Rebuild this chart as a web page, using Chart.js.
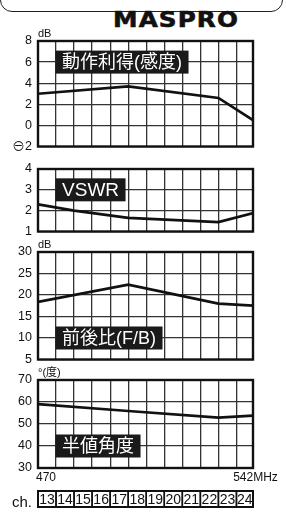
<!DOCTYPE html>
<html lang="ja">
  <head>
    <meta charset="UTF-8" />
    <meta name="viewport" content="width=device-width, initial-scale=1.0" />
    <title>MASPRO UHF characteristics</title>
    <script src="https://cdn.jsdelivr.net/npm/chart.js@4"></script>
    <style>
      body {
        margin: 0;
        width: 286px;
        height: 515px;
        background: #fff;
        position: relative;
        overflow: hidden;
      }
      .frame {
        position: absolute;
        left: 0;
        top: -22px;
        width: 281px;
        height: 32px;
        border: 1.5px solid #222;
        border-radius: 12px;
      }
      .logo {
        position: absolute;
        left: 113px;
        top: 9px;
        font: 900 22px "DejaVu Sans", sans-serif;
        line-height: 22px;
        letter-spacing: 1px;
        color: #111;
        transform: scaleX(1.12);
        transform-origin: left top;
        -webkit-text-stroke: 0.6px #111;
      }
      .panel {
        position: absolute;
        left: 0;
        width: 286px;
      }
    </style>
  </head>

  <body>
    <div class="frame"></div>
    <div class="logo">MASPRO</div>
    <div class="panel" style="top: 16px; height: 144px"><canvas id="gainChart"></canvas></div>
    <div class="panel" style="top: 150px; height: 95px"><canvas id="vswrChart"></canvas></div>
    <div class="panel" style="top: 232px; height: 141px"><canvas id="fbChart"></canvas></div>
    <div class="panel" style="top: 360px; height: 155px"><canvas id="angleChart"></canvas></div>

    <script>
      // UHF ch13 - ch24, 470 - 542 MHz
      const channels = ["13", "14", "15", "16", "17", "18", "19", "20", "21", "22", "23", "24"];
      const channelEdges = [470, 476, 482, 488, 494, 500, 506, 512, 518, 524, 530, 536, 542];

      const freqs = [470, 500, 530, 542];
      const vswrFreqs = [470, 482, 500, 530, 542];
      const gainDb = [3.0, 3.7, 2.6, 0.4];
      const vswr = [2.3, 2.0, 1.65, 1.45, 1.9];
      const frontBackDb = [18.4, 22.4, 18.0, 17.5];
      const halfAngleDeg = [59, 55.9, 52.9, 53.8];

      const gainTicks = [-2, 0, 2, 4, 6, 8];
      const vswrTicks = [1, 2, 3, 4];
      const fbTicks = [5, 10, 15, 20, 25, 30];
      const angleTicks = [30, 40, 50, 60, 70];

      const ink = "#111";
      const latin = "'Liberation Sans', Arial, sans-serif";
      const jp = "'Liberation Sans', 'Noto Sans CJK JP', sans-serif";

      // the printed grid is a touch narrower than 72 MHz, so squeeze the right end
      const xMax = 541.5;

      const framePlugin = {
        id: "frame",
        afterDraw(chart, args, opts) {
          const { ctx, chartArea: a } = chart;
          const xs = chart.scales.x;
          const ys = chart.scales.y;
          ctx.save();

          ctx.strokeStyle = ink;
          ctx.lineWidth = 2.4;
          ctx.strokeRect(a.left, a.top, a.right - a.left, a.bottom - a.top);

          // unit above the panel
          ctx.fillStyle = ink;
          ctx.font = "11px " + jp;
          ctx.textAlign = "left";
          ctx.textBaseline = "alphabetic";
          ctx.fillText(opts.unit, a.left, a.top - 4);

          // black name box
          ctx.font = opts.labelFont;
          const tw = ctx.measureText(opts.label).width;
          const bx = xs.getPixelForValue(channelEdges[1]) - 0.5;
          const by = ys.getPixelForValue(opts.labelAt);
          ctx.fillStyle = "#1a1a1a";
          ctx.fillRect(bx, by - 11.5, tw + 13, 23);
          ctx.fillStyle = "#fff";
          ctx.textBaseline = "middle";
          ctx.fillText(opts.label, bx + 6.5, by + 1);

          if (opts.bottom) {
            ctx.fillStyle = ink;
            ctx.font = "12px " + latin;
            ctx.textBaseline = "alphabetic";
            ctx.textAlign = "left";
            ctx.fillText("470", a.left - 2, a.bottom + 13);
            ctx.textAlign = "center";
            ctx.fillText("542MHz", xs.getPixelForValue(542) + 1, a.bottom + 13);

            const top = a.bottom + 23;
            const h = 16;
            ctx.textAlign = "right";
            ctx.font = "15px " + latin;
            ctx.fillText("ch.", a.left - 6, top + 16);

            ctx.strokeStyle = ink;
            ctx.font = "14px 'Liberation Sans Narrow', " + latin;
            ctx.textAlign = "center";
            ctx.textBaseline = "middle";
            channels.forEach((ch, i) => {
              const x0 = xs.getPixelForValue(channelEdges[i]);
              const x1 = Math.min(xs.getPixelForValue(channelEdges[i + 1]), a.right);
              ctx.lineWidth = 1.5;
              ctx.strokeRect(x0, top, x1 - x0, h);
              ctx.fillText(ch, (x0 + x1) / 2, top + h / 2 + 1);
            });
            ctx.lineWidth = 2;
            ctx.strokeRect(a.left, top, a.right - a.left, h);
          }
          ctx.restore();
        },
      };

      function makePanel(id, xsData, ysData, ticks, pad, frame) {
        new Chart(document.getElementById(id), {
          type: "line",
          data: {
            datasets: [
              {
                data: xsData.map((x, i) => ({ x: x, y: ysData[i] })),
                borderColor: ink,
                borderWidth: 2.7,
                pointRadius: 0,
                tension: 0,
              },
            ],
          },
          options: {
            responsive: true,
            maintainAspectRatio: false,
            animation: false,
            events: [],
            layout: { padding: { top: pad[0], right: 33, bottom: pad[1], left: 0 } },
            plugins: {
              legend: { display: false },
              tooltip: { enabled: false },
              frame: frame,
            },
            scales: {
              x: {
                type: "linear",
                min: channelEdges[0],
                max: xMax,
                afterBuildTicks: (axis) => {
                  axis.ticks = channelEdges.slice(0, -1).map((v) => ({ value: v }));
                },
                afterFit: (axis) => {
                  axis.height = 0;
                },
                ticks: { display: false },
                grid: { color: "#333", lineWidth: 1.3, drawTicks: false },
                border: { display: false },
              },
              y: {
                min: ticks[0],
                max: ticks[ticks.length - 1],
                afterBuildTicks: (axis) => {
                  axis.ticks = ticks.map((v) => ({ value: v }));
                },
                afterFit: (axis) => {
                  axis.width = 38;
                },
                ticks: {
                  padding: 6,
                  color: ink,
                  font: { size: 12.5, family: latin },
                  callback: (v) => (v < 0 ? "\u2296" + Math.abs(v) : v),
                },
                grid: { color: "#333", lineWidth: 1.3, drawTicks: false },
                border: { display: false },
              },
            },
          },
          plugins: [framePlugin],
        });
      }

      makePanel("gainChart", freqs, gainDb, gainTicks, [25, 12], {
        unit: "dB",
        label: "動作利得(感度)",
        labelFont: "18px " + jp,
        labelAt: 6,
      });
      makePanel("vswrChart", vswrFreqs, vswr, vswrTicks, [19, 12], {
        unit: "",
        label: "VSWR",
        labelFont: "19px " + latin,
        labelAt: 3,
      });
      makePanel("fbChart", freqs, frontBackDb, fbTicks, [20, 12], {
        unit: "dB",
        label: "前後比(F/B)",
        labelFont: "18px " + jp,
        labelAt: 10,
      });
      makePanel("angleChart", freqs, halfAngleDeg, angleTicks, [20, 47], {
        unit: "°(度)",
        label: "半値角度",
        labelFont: "18px " + jp,
        labelAt: 40,
        bottom: true,
      });
    </script>
  </body>
</html>
